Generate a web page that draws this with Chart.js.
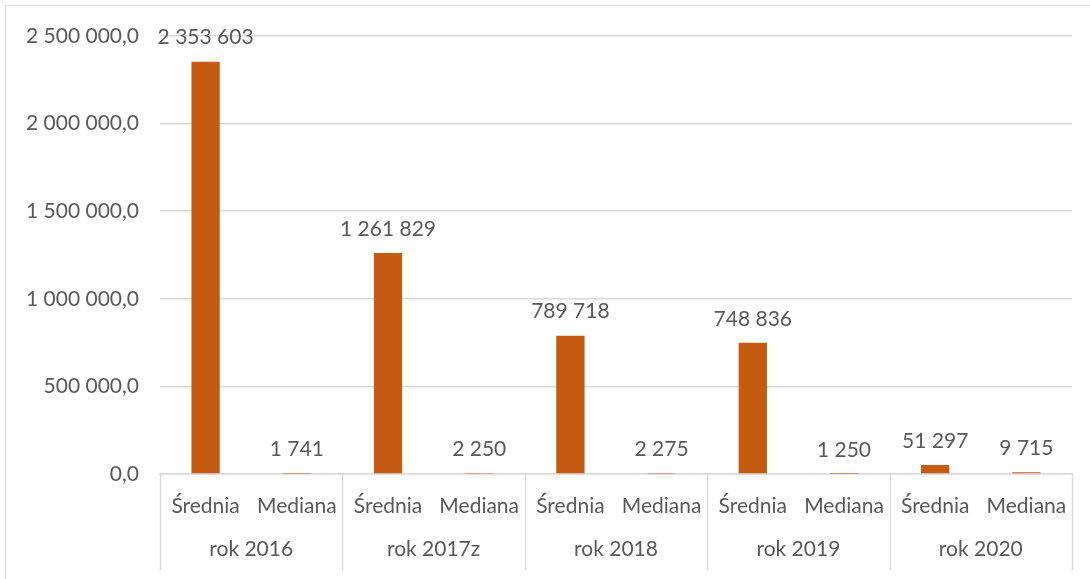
<!DOCTYPE html>
<html>
<head>
<meta charset="utf-8">
<script src="https://cdn.jsdelivr.net/npm/chart.js@4.4.0/dist/chart.umd.min.js"></script>
<style>
  html, body { margin: 0; padding: 0; background: #fff; overflow: hidden; }
  #frame { position: absolute; left: 5px; top: 5px; width: 1100px; height: 600px; border-left: 1px solid #d9d9d9; border-top: 1px solid #d9d9d9; }
  #wrap { position: absolute; left: 0; top: 0; width: 1090px; height: 579px; }
</style>
</head>
<body>
<div id="frame"></div>
<div id="wrap"><canvas id="myChart"></canvas></div>
<script>
const years = ['rok 2016', 'rok 2017z', 'rok 2018', 'rok 2019', 'rok 2020'];
const subLabels = ['Średnia', 'Mediana'];
const srednia = [2353603, 1261829, 789718, 748836, 51297];
const mediana = [1741, 2250, 2275, 1250, 9715];
const yTicks = [0, 500000, 1000000, 1500000, 2000000, 2500000];

const textColor = '#595959';
const lineColor = '#d9d9d9';
const fontFamily = 'Lato, "Open Sans", sans-serif';
const fontSize = 21;

// flatten to 10 categories: Średnia / Mediana per year
const labels = [];
const values = [];
years.forEach((y, i) => {
    labels.push(subLabels[0], subLabels[1]);
    values.push(srednia[i], mediana[i]);
});

function fmt(v, dec) {
    const parts = v.toFixed(dec).split('.');
    const intPart = parts[0].replace(/\B(?=(\d{3})+(?!\d))/g, ' ');
    return parts.length > 1 ? intPart + ',' + parts[1] : intPart;
}

// group separators under the category axis
const groupLines = {
    id: 'groupLines',
    afterDraw(chart) {
        const x = chart.scales.x;
        const x2 = chart.scales.x2;
        const ctx = chart.ctx;
        const step = (x.right - x.left) / labels.length;
        ctx.save();
        ctx.strokeStyle = lineColor;
        ctx.lineWidth = 1.5;
        for (let i = 0; i <= years.length; i++) {
            const px = Math.round(x.left + i * 2 * step) + 0.5;
            ctx.beginPath();
            ctx.moveTo(px, chart.chartArea.bottom);
            ctx.lineTo(px, x2.bottom + 5);
            ctx.stroke();
        }
        ctx.restore();
    }
};

// value labels above the bars
const valueLabels = {
    id: 'valueLabels',
    afterDatasetsDraw(chart) {
        const ctx = chart.ctx;
        const meta = chart.getDatasetMeta(0);
        ctx.save();
        ctx.fillStyle = textColor;
        ctx.font = fontSize + 'px ' + fontFamily;
        ctx.textAlign = 'center';
        ctx.textBaseline = 'middle';
        meta.data.forEach((bar, i) => {
            ctx.fillText(fmt(values[i], 0), bar.x, bar.y - 24);
        });
        ctx.restore();
    }
};

window.onload = () => {
    const ctx = document.getElementById('myChart');

    new Chart(ctx, {
        type: 'bar',
        data: {
            labels: labels,
            datasets: [{
                data: values,
                backgroundColor: '#c55a11',
                barPercentage: 0.31,
                categoryPercentage: 1
            }]
        },
        options: {
            responsive: true,
            maintainAspectRatio: false,
            animation: false,
            layout: {
                padding: { top: 36, right: 18, bottom: 14, left: 0 }
            },
            plugins: {
                legend: { display: false },
                tooltip: { enabled: false }
            },
            scales: {
                x: {
                    weight: 0,
                    afterFit: (scale) => { scale.height = 46; },
                    grid: { display: false, drawTicks: false },
                    border: { display: true, color: lineColor, width: 1.5 },
                    ticks: {
                        color: textColor,
                        font: { size: fontSize, family: fontFamily },
                        padding: 20,
                        maxRotation: 0,
                        autoSkip: false
                    }
                },
                x2: {
                    type: 'category',
                    position: 'bottom',
                    weight: 1,
                    labels: years,
                    offset: true,
                    afterFit: (scale) => { scale.height = 45; },
                    grid: { display: false, drawTicks: false },
                    border: { display: false },
                    ticks: {
                        color: textColor,
                        font: { size: fontSize, family: fontFamily },
                        padding: 17,
                        maxRotation: 0,
                        autoSkip: false
                    }
                },
                y: {
                    min: 0,
                    max: 2500000,
                    afterFit: (scale) => { scale.width = 160; },
                    afterBuildTicks: (scale) => { scale.ticks = yTicks.map(v => ({ value: v })); },
                    border: { display: false },
                    grid: { color: lineColor, lineWidth: 1.5, drawTicks: false },
                    ticks: {
                        color: textColor,
                        font: { size: fontSize, family: fontFamily },
                        padding: 21,
                        callback: (v) => fmt(v, 1)
                    }
                }
            }
        },
        plugins: [groupLines, valueLabels]
    });
};
</script>
</body>
</html>
